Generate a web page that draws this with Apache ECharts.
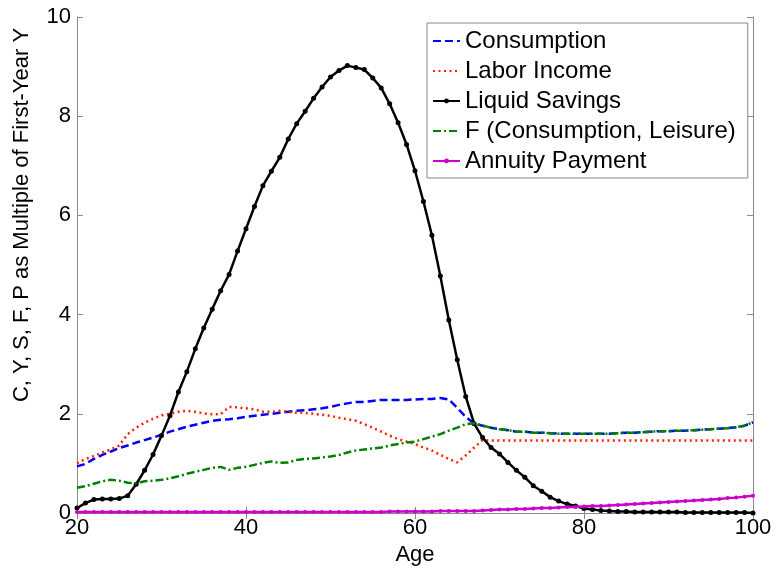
<!DOCTYPE html>
<html>
<head>
<meta charset="utf-8">
<script src="https://cdn.jsdelivr.net/npm/echarts@6/dist/echarts.min.js"></script>
<style>
  html, body { margin: 0; padding: 0; background: #fff; }
  #chart { width: 776px; height: 571px; }
</style>
</head>
<body>
<div id="chart"></div>
<script>
const ages = [20, 21, 22, 23, 24, 25, 26, 27, 28, 29, 30, 31, 32, 33, 34, 35, 36, 37, 38, 39,
  40, 41, 42, 43, 44, 45, 46, 47, 48, 49, 50, 51, 52, 53, 54, 55, 56, 57, 58, 59,
  60, 61, 62, 63, 64, 65, 66, 67, 68, 69, 70, 71, 72, 73, 74, 75, 76, 77, 78, 79,
  80, 81, 82, 83, 84, 85, 86, 87, 88, 89, 90, 91, 92, 93, 94, 95, 96, 97, 98, 99, 100];

const consumption = [0.94, 0.99, 1.09, 1.17, 1.24, 1.31, 1.36, 1.42, 1.47, 1.52,
  1.58, 1.64, 1.69, 1.74, 1.78, 1.82, 1.86, 1.88, 1.89, 1.91,
  1.94, 1.96, 1.98, 2.00, 2.02, 2.04, 2.06, 2.07, 2.09, 2.11,
  2.14, 2.18, 2.21, 2.24, 2.24, 2.26, 2.28, 2.28, 2.28, 2.28,
  2.29, 2.30, 2.30, 2.32, 2.29, 2.12, 1.94, 1.80, 1.76, 1.72,
  1.69, 1.67, 1.64, 1.64, 1.62, 1.62, 1.61, 1.60, 1.60, 1.60,
  1.60, 1.60, 1.60, 1.60, 1.61, 1.62, 1.62, 1.63, 1.64, 1.65,
  1.65, 1.66, 1.66, 1.67, 1.68, 1.69, 1.70, 1.71, 1.73, 1.76, 1.83];

const laborIncome = [1.00, 1.09, 1.15, 1.22, 1.28, 1.36, 1.59, 1.72, 1.82, 1.90,
  1.97, 2.00, 2.04, 2.06, 2.04, 2.01, 1.99, 1.99, 2.14, 2.13,
  2.11, 2.09, 2.04, 2.04, 2.06, 2.04, 2.02, 2.02, 2.00, 1.98,
  1.96, 1.92, 1.89, 1.86, 1.79, 1.72, 1.64, 1.56, 1.49, 1.44,
  1.39, 1.32, 1.26, 1.17, 1.09, 1.02, 1.16, 1.32, 1.47, 1.46,
  1.46, 1.46, 1.46, 1.46, 1.46, 1.46, 1.46, 1.46, 1.46, 1.46,
  1.46, 1.46, 1.46, 1.46, 1.46, 1.46, 1.46, 1.46, 1.46, 1.46,
  1.46, 1.46, 1.46, 1.46, 1.46, 1.46, 1.46, 1.46, 1.46, 1.46, 1.46];

const liquidSavings = [0.10, 0.20, 0.27, 0.28, 0.28, 0.29, 0.35, 0.58, 0.86, 1.18,
  1.56, 1.96, 2.44, 2.85, 3.31, 3.73, 4.11, 4.48, 4.81, 5.28,
  5.73, 6.18, 6.60, 6.89, 7.17, 7.54, 7.85, 8.10, 8.36, 8.59,
  8.79, 8.92, 9.02, 8.98, 8.94, 8.77, 8.57, 8.25, 7.87, 7.43,
  6.90, 6.28, 5.60, 4.78, 3.89, 3.09, 2.35, 1.80, 1.52, 1.32,
  1.19, 1.02, 0.86, 0.72, 0.55, 0.44, 0.32, 0.24, 0.18, 0.14,
  0.09, 0.07, 0.05, 0.04, 0.03, 0.03, 0.02, 0.02, 0.02, 0.02,
  0.02, 0.02, 0.01, 0.01, 0.01, 0.01, 0.01, 0.01, 0.01, 0.01, 0.00];

const fConsLeisure = [0.51, 0.54, 0.59, 0.64, 0.67, 0.65, 0.61, 0.60, 0.64, 0.65,
  0.67, 0.70, 0.74, 0.79, 0.83, 0.87, 0.91, 0.93, 0.87, 0.91,
  0.93, 0.97, 1.01, 1.04, 1.01, 1.02, 1.07, 1.09, 1.10, 1.12,
  1.14, 1.17, 1.22, 1.26, 1.28, 1.30, 1.32, 1.36, 1.39, 1.42,
  1.44, 1.49, 1.54, 1.59, 1.66, 1.72, 1.79, 1.81, 1.76, 1.72,
  1.69, 1.67, 1.64, 1.64, 1.62, 1.62, 1.61, 1.60, 1.60, 1.60,
  1.60, 1.60, 1.60, 1.60, 1.61, 1.62, 1.62, 1.63, 1.64, 1.65,
  1.65, 1.66, 1.66, 1.67, 1.68, 1.69, 1.70, 1.71, 1.73, 1.76, 1.83];

const annuityPayment = [0.02, 0.02, 0.02, 0.02, 0.02, 0.02, 0.02, 0.02, 0.02, 0.02,
  0.02, 0.02, 0.02, 0.02, 0.02, 0.02, 0.02, 0.02, 0.02, 0.02,
  0.02, 0.02, 0.02, 0.02, 0.02, 0.02, 0.02, 0.02, 0.02, 0.02,
  0.02, 0.02, 0.02, 0.02, 0.02, 0.02, 0.02, 0.03, 0.03, 0.03,
  0.03, 0.03, 0.03, 0.04, 0.04, 0.04, 0.04, 0.04, 0.05, 0.06,
  0.07, 0.07, 0.08, 0.08, 0.09, 0.10, 0.10, 0.11, 0.12, 0.12,
  0.13, 0.14, 0.14, 0.15, 0.16, 0.17, 0.18, 0.19, 0.20, 0.21,
  0.22, 0.23, 0.24, 0.25, 0.26, 0.27, 0.28, 0.30, 0.31, 0.33, 0.35];

const xTicks = [20, 40, 60, 80, 100];
const yTicks = [0, 2, 4, 6, 8, 10];

const toPairs = (vals) => vals.map((v, i) => [ages[i], v]);

const chart = echarts.init(document.getElementById("chart"));
const font = "Liberation Sans, Arial, sans-serif";
const axisGray = "#8a8a8a";

const frameAxis = {
  type: "value",
  axisLine: { show: true, lineStyle: { color: axisGray, width: 1 } },
  axisTick: { show: true, inside: true, length: 6, lineStyle: { color: axisGray } },
  splitLine: { show: false },
};

// line-only legend entries hide the marker
const noMarker = { itemStyle: { opacity: 0 } };

const option = {
  animation: false,
  backgroundColor: "#fff",
  grid: { left: 77, right: 23, top: 17, bottom: 55, containLabel: false },
  legend: {
    orient: "vertical",
    left: 427,
    top: 23,
    backgroundColor: "#fff",
    borderColor: "#888",
    borderWidth: 1,
    borderRadius: 0,
    padding: [6, 12, 5, 5],
    itemWidth: 27,
    itemHeight: 6,
    itemGap: 6,
    textStyle: { fontFamily: font, fontSize: 24, color: "#000", lineHeight: 24 },
    data: [
      { name: "Consumption", ...noMarker },
      { name: "Labor Income", ...noMarker },
      { name: "Liquid Savings" },
      { name: "F (Consumption, Leisure)", ...noMarker },
      { name: "Annuity Payment" },
    ],
  },
  xAxis: [
    {
      ...frameAxis,
      min: xTicks[0],
      max: xTicks[xTicks.length - 1],
      interval: 20,
      position: "bottom",
      name: "Age",
      nameLocation: "middle",
      nameGap: 31,
      nameTextStyle: { fontFamily: font, fontSize: 22, color: "#000" },
      axisLabel: { fontFamily: font, fontSize: 22, color: "#000", margin: 4 },
    },
    {
      ...frameAxis,
      min: xTicks[0],
      max: xTicks[xTicks.length - 1],
      interval: 20,
      position: "top",
      axisLabel: { show: false },
    },
  ],
  yAxis: [
    {
      ...frameAxis,
      min: yTicks[0],
      max: yTicks[yTicks.length - 1],
      interval: 2,
      position: "left",
      name: "C, Y, S, F, P as Multiple of First-Year Y",
      nameLocation: "middle",
      nameGap: 44,
      nameTextStyle: { fontFamily: font, fontSize: 22, color: "#000", padding: [0, 0, 0, 100] },
      axisLabel: { fontFamily: font, fontSize: 22, color: "#000", margin: 6 },
    },
    {
      ...frameAxis,
      min: yTicks[0],
      max: yTicks[yTicks.length - 1],
      interval: 2,
      position: "right",
      axisLabel: { show: false },
    },
  ],
  series: [
    {
      name: "Consumption",
      type: "line",
      symbol: "none",
      data: toPairs(consumption),
      lineStyle: { color: "#0000ff", width: 2.5, type: [8, 4] },
      itemStyle: { color: "#0000ff" },
      z: 2,
    },
    {
      name: "Labor Income",
      type: "line",
      symbol: "none",
      data: toPairs(laborIncome),
      lineStyle: { color: "#ff2200", width: 2.5, type: [2, 3.5] },
      itemStyle: { color: "#ff2200" },
      z: 3,
    },
    {
      name: "Liquid Savings",
      type: "line",
      symbol: "circle",
      symbolSize: 5,
      data: toPairs(liquidSavings),
      lineStyle: { color: "#000", width: 2.5 },
      itemStyle: { color: "#000" },
      z: 4,
    },
    {
      name: "F (Consumption, Leisure)",
      type: "line",
      symbol: "none",
      data: toPairs(fConsLeisure),
      lineStyle: { color: "#008000", width: 2.5, type: [8, 3, 2, 3] },
      itemStyle: { color: "#008000" },
      z: 5,
    },
    {
      name: "Annuity Payment",
      type: "line",
      symbol: "circle",
      symbolSize: 4,
      data: toPairs(annuityPayment),
      lineStyle: { color: "#cc00cc", width: 2.5 },
      itemStyle: { color: "#cc00cc" },
      z: 6,
    },
  ],
};

chart.setOption(option);
</script>
</body>
</html>
